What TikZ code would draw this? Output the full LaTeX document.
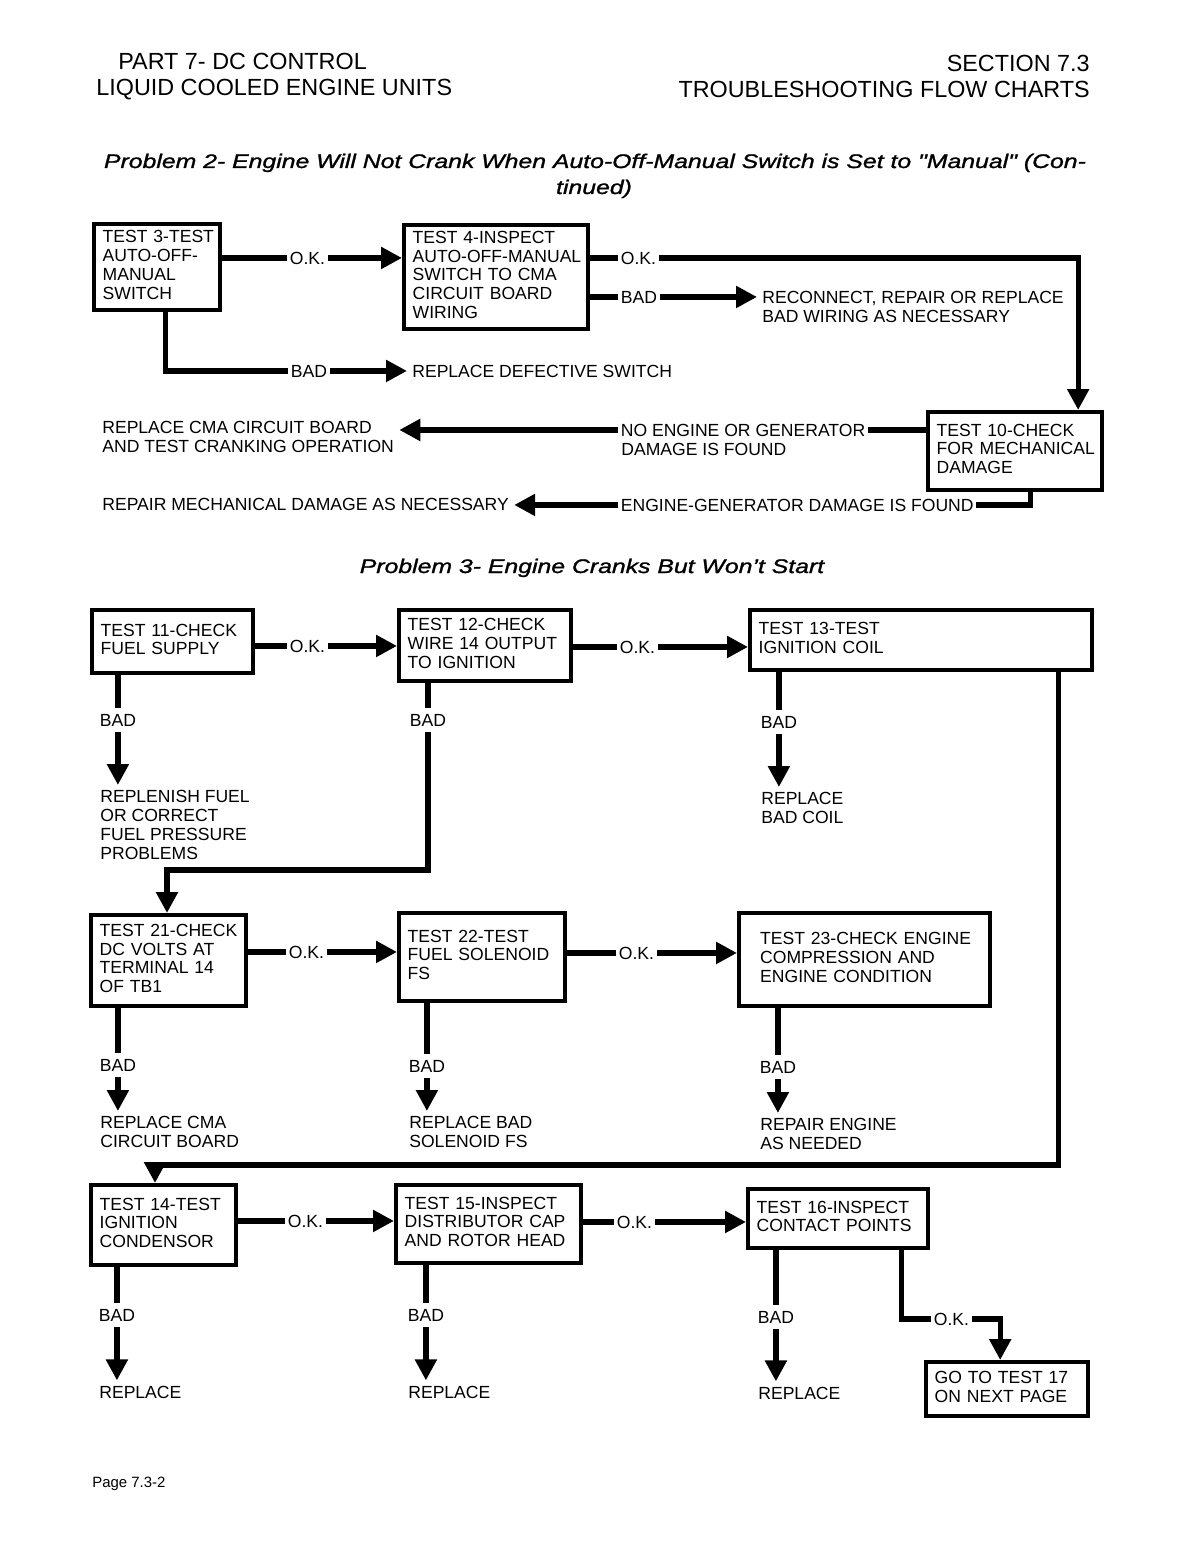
\documentclass[tikz,border=0pt]{standalone}
\usepackage{fontspec}
\setmainfont{Liberation Sans}
\newfontfamily\titlefont{Liberation Sans}[FakeStretch=1.26,FakeBold=1.3]
\usetikzlibrary{arrows.meta}

\newcommand\chartfont{\fontsize{10}{10.8}\selectfont}
\newcommand\headfont{\fontsize{13.3}{16}\selectfont}
\newcommand\probfont{\titlefont\itshape\fontsize{11.2}{14}\selectfont}
\newcommand\boxtext[1]{\begin{tabular}{@{}l@{}}#1\end{tabular}}

\tikzset{
  box/.style={draw, line width=2.5pt, anchor=north west, inner xsep=0.17cm, inner ysep=0pt, align=left, font=\chartfont},
  conn/.style={line width=3pt},
  arr/.style={conn, -{Triangle[length=0.42cm,width=0.42cm]}},
  lbl/.style={font=\chartfont, anchor=base west, inner xsep=0.05cm, inner ysep=0.12cm},
  res/.style={font=\chartfont, align=left, inner sep=0.1cm},
  head/.style={font=\headfont, inner sep=0pt},
  prob/.style={font=\probfont, inner sep=0pt, anchor=base}
}

\begin{document}
\begin{tikzpicture}[x=0.02cm,y=-0.02cm]
\useasboundingbox (0,0) rectangle (1187,1544);

% page header
\node[head, anchor=base west] (part) at (118,70) {PART 7- DC CONTROL};
\node[head, anchor=base west] (units) at (96,96) {LIQUID COOLED ENGINE UNITS};
\node[head, anchor=base east] (sect) at (1090,72) {SECTION 7.3};
\node[head, anchor=base east] (flow) at (1090,98) {TROUBLESHOOTING FLOW CHARTS};

% problem 2
\node[prob] (prob2a) at (595,168) {Problem 2- Engine Will Not Crank When Auto-Off-Manual Switch is Set to "Manual" (Con-};
\node[prob] (prob2b) at (594,194) {tinued)};

\node[box, text width=2.18cm, minimum height=1.72cm] (t3) at (92,222) {\boxtext{TEST 3-TEST\\AUTO-OFF-\\MANUAL\\SWITCH}};
\node[box, text width=3.34cm, minimum height=2.08cm] (t4) at (402,223) {\boxtext{TEST 4-INSPECT\\AUTO-OFF-MANUAL\\SWITCH TO CMA\\CIRCUIT BOARD\\WIRING}};
\node[box, text width=3.14cm, minimum height=1.56cm] (t10) at (926,410) {\boxtext{TEST 10-CHECK\\FOR MECHANICAL\\DAMAGE}};

\node[lbl] (ok3) at (287,264) {O.K.};
\node[lbl] (ok4) at (618,264) {O.K.};
\node[lbl] (bad4) at (618,303) {BAD};
\node[res, anchor=north west] (rewire) at (757,286) {RECONNECT, REPAIR OR REPLACE\\BAD WIRING AS NECESSARY};
\node[lbl] (bad3) at (288,377) {BAD};
\node[res, anchor=base west] (repsw) at (407,377) {REPLACE DEFECTIVE SWITCH};
\node[lbl] (nog) at (618,436) {NO ENGINE OR GENERATOR};
\node[lbl, inner sep=0pt] (nog2) at (621,455) {DAMAGE IS FOUND};
\node[res, anchor=north west] (rcma) at (97,416) {REPLACE CMA CIRCUIT BOARD\\AND TEST CRANKING OPERATION};
\node[lbl] (egd) at (618,511) {ENGINE-GENERATOR DAMAGE IS FOUND};
\node[res, anchor=base west] (rmech) at (97,510) {REPAIR MECHANICAL DAMAGE AS NECESSARY};

\draw[conn] (t3.east |- ok3) -- (ok3.west);
\draw[arr] (ok3.east) -- (t4.west |- ok3);
\draw[conn] (t4.east |- ok4) -- (ok4.west);
\draw[arr] (ok4.east) -| ([xshift=1.26cm]t10.north);
\draw[conn] (t4.east |- bad4) -- (bad4.west);
\draw[arr] (bad4.east) -- (rewire.west |- bad4);
\draw[conn] ([xshift=0.16cm]t3.south) |- (bad3.west);
\draw[arr] (bad3.east) -- (repsw.west |- bad3);
\draw[conn] (t10.west |- nog) -- (nog.east);
\draw[arr] (nog.west) -- (rcma.east |- nog);
\draw[conn] ([xshift=0.3cm]t10.south) |- (egd.east);
\draw[arr] (egd.west) -- (rmech.east |- egd);

% problem 3
\node[prob] (prob3) at (592,573) {Problem 3- Engine Cranks But Won’t Start};

\node[box, text width=2.88cm, minimum height=1.26cm] (t11) at (90,608) {\boxtext{TEST 11-CHECK\\FUEL SUPPLY}};
\node[box, text width=3.10cm, minimum height=1.42cm] (t12) at (397,608) {\boxtext{TEST 12-CHECK\\WIRE 14 OUTPUT\\TO IGNITION}};
\node[box, text width=6.50cm, minimum height=1.20cm] (t13) at (748,608) {\boxtext{TEST 13-TEST\\IGNITION COIL}};
\node[box, text width=2.76cm, minimum height=1.82cm] (t21) at (89,913) {\boxtext{TEST 21-CHECK\\DC VOLTS AT\\TERMINAL 14\\OF TB1}};
\node[box, text width=2.98cm, minimum height=1.76cm] (t22) at (397,911) {\boxtext{TEST 22-TEST\\FUEL SOLENOID\\FS}};
\node[box, inner xsep=0.42cm, text width=4.18cm, minimum height=1.86cm] (t23) at (737,911) {\boxtext{TEST 23-CHECK ENGINE\\COMPRESSION AND\\ENGINE CONDITION}};
\node[box, text width=2.56cm, minimum height=1.60cm] (t14) at (89,1183) {\boxtext{TEST 14-TEST\\IGNITION\\CONDENSOR}};
\node[box, text width=3.36cm, minimum height=1.56cm] (t15) at (394,1183) {\boxtext{TEST 15-INSPECT\\DISTRIBUTOR CAP\\AND ROTOR HEAD}};
\node[box, text width=3.26cm, minimum height=1.18cm] (t16) at (746,1187) {\boxtext{TEST 16-INSPECT\\CONTACT POINTS}};
\node[box, text width=2.90cm, minimum height=1.08cm] (t17) at (924,1360) {\boxtext{GO TO TEST 17\\ON NEXT PAGE}};

\node[lbl] (ok11) at (287,652) {O.K.};
\node[lbl] (ok12) at (617,653) {O.K.};
\node[lbl] (bad11) at (97,726) {BAD};
\node[lbl] (bad12) at (407,726) {BAD};
\node[lbl] (bad13) at (758,728) {BAD};
\node[res, anchor=north west] (refuel) at (95,785) {REPLENISH FUEL\\OR CORRECT\\FUEL PRESSURE\\PROBLEMS};
\node[res, anchor=north west] (rcoil) at (756,787) {REPLACE\\BAD COIL};

\node[lbl] (ok21) at (286,958) {O.K.};
\node[lbl] (ok22) at (616,959) {O.K.};
\node[lbl] (bad21) at (97,1071) {BAD};
\node[lbl] (bad22) at (406,1072) {BAD};
\node[lbl] (bad23) at (757,1073) {BAD};
\node[res, anchor=north west] (rcma21) at (95,1111) {REPLACE CMA\\CIRCUIT BOARD};
\node[res, anchor=north west] (rsol) at (404,1111) {REPLACE BAD\\SOLENOID FS};
\node[res, anchor=north west] (reng) at (755,1113) {REPAIR ENGINE\\AS NEEDED};

\node[lbl] (ok14) at (285,1227) {O.K.};
\node[lbl] (ok15) at (614,1228) {O.K.};
\node[lbl] (ok16) at (931,1325) {O.K.};
\node[lbl] (bad14) at (96,1321) {BAD};
\node[lbl] (bad15) at (405,1321) {BAD};
\node[lbl] (bad16) at (755,1323) {BAD};
\node[res, anchor=base west] (rep14) at (94,1398) {REPLACE};
\node[res, anchor=base west] (rep15) at (403,1398) {REPLACE};
\node[res, anchor=base west] (rep16) at (753,1399) {REPLACE};

\coordinate (k12) at (167,870);
\coordinate (k14) at (155,1165);

\draw[conn] (t11.east |- ok11) -- (ok11.west);
\draw[arr] (ok11.east) -- (t12.west |- ok11);
\draw[conn] (t12.east |- ok12) -- (ok12.west);
\draw[arr] (ok12.east) -- (t13.west |- ok12);
\draw[conn] (t11.south -| bad11) -- (bad11.north);
\draw[arr] (bad11.south) -- (refuel.north -| bad11);
\draw[conn] (t12.south -| bad12) -- (bad12.north);
\draw[arr] (bad12.south) |- (k12) -- (k12 |- t21.north);
\draw[conn] (t13.south -| bad13) -- (bad13.north);
\draw[arr] (bad13.south) -- (rcoil.north -| bad13);
\draw[arr] ([xshift=2.74cm]t13.south) |- (k14) -- (k14 |- t14.north);

\draw[conn] (t21.east |- ok21) -- (ok21.west);
\draw[arr] (ok21.east) -- (t22.west |- ok21);
\draw[conn] (t22.east |- ok22) -- (ok22.west);
\draw[arr] (ok22.east) -- (t23.west |- ok22);
\draw[conn] (t21.south -| bad21) -- (bad21.north);
\draw[arr] (bad21.south) -- (rcma21.north -| bad21);
\draw[conn] (t22.south -| bad22) -- (bad22.north);
\draw[arr] (bad22.south) -- (rsol.north -| bad22);
\draw[conn] (t23.south -| bad23) -- (bad23.north);
\draw[arr] (bad23.south) -- (reng.north -| bad23);

\draw[conn] (t14.east |- ok14) -- (ok14.west);
\draw[arr] (ok14.east) -- (t15.west |- ok14);
\draw[conn] (t15.east |- ok15) -- (ok15.west);
\draw[arr] (ok15.east) -- (t16.west |- ok15);
\draw[conn] (t14.south -| bad14) -- (bad14.north);
\draw[arr] (bad14.south) -- (rep14.north -| bad14);
\draw[conn] (t15.south -| bad15) -- (bad15.north);
\draw[arr] (bad15.south) -- (rep15.north -| bad15);
\draw[conn] (t16.south -| bad16) -- (bad16.north);
\draw[arr] (bad16.south) -- (rep16.north -| bad16);
\draw[conn] ([xshift=1.26cm]t16.south) |- (ok16.west);
\draw[arr] (ok16.east) -| ([xshift=-0.14cm]t17.north);

% footer
\node[font=\fontsize{8.5}{10}\selectfont, inner sep=0pt, anchor=base west] (page) at (92,1487) {Page 7.3-2};

\end{tikzpicture}
\end{document}
